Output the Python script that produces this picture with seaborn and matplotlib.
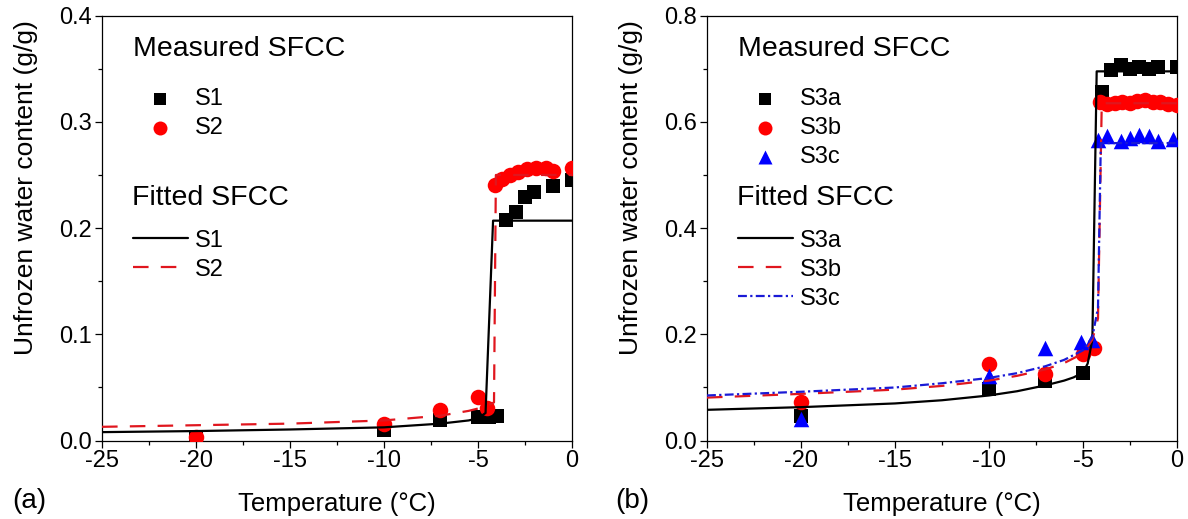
import numpy as np
import pandas as pd
import matplotlib
matplotlib.use('Agg')
import matplotlib.pyplot as plt
from matplotlib.ticker import MultipleLocator, FormatStrFormatter
import seaborn as sns

# Panel (a) measured SFCC
s1_t = [-20, -10, -7, -5.0, -4.4, -4.0, -3.5, -3.0, -2.5, -2.0, -1.0, 0.0]
s1_w = [0.002, 0.010, 0.019, 0.022, 0.022, 0.023, 0.208, 0.215, 0.229, 0.234, 0.240, 0.245]
s2_t = [-20, -10, -7, -5.0, -4.5, -4.1, -3.7, -3.3, -2.9, -2.4, -1.9, -1.4, -1.0, 0.0]
s2_w = [0.003, 0.016, 0.029, 0.041, 0.031, 0.241, 0.246, 0.250, 0.253, 0.256, 0.257, 0.257, 0.254, 0.257]

# Panel (a) fitted SFCC
fit_s1_t = [-25, -20, -15, -10, -7, -5.5, -5.0, -4.6, -4.2, 0]
fit_s1_w = [0.008, 0.009, 0.0105, 0.0125, 0.016, 0.019, 0.021, 0.026, 0.207, 0.207]
fit_s2_t = [-25, -20, -15, -10, -7, -5.5, -4.6, -4.15, -4.05, 0]
fit_s2_w = [0.013, 0.0145, 0.016, 0.019, 0.0235, 0.028, 0.032, 0.036, 0.25, 0.25]

# Panel (b) measured SFCC
s3a_t = [-20, -10, -7, -5, -4.0, -3.5, -3.0, -2.5, -2.0, -1.5, -1.0, 0.0]
s3a_w = [0.047, 0.097, 0.113, 0.128, 0.657, 0.698, 0.707, 0.700, 0.704, 0.700, 0.704, 0.704]
s3b_t = [-20, -10, -7, -5, -4.4, -4.1, -3.7, -3.3, -2.9, -2.5, -2.1, -1.7, -1.3, -0.9, -0.5, 0.0]
s3b_w = [0.073, 0.144, 0.125, 0.163, 0.175, 0.638, 0.633, 0.636, 0.638, 0.636, 0.640, 0.641, 0.638, 0.637, 0.634, 0.632]
s3c_t = [-20, -10, -7, -5.1, -4.5, -4.2, -3.7, -3.0, -2.5, -2.0, -1.5, -1.0, -0.2]
s3c_w = [0.040, 0.122, 0.175, 0.185, 0.190, 0.565, 0.573, 0.563, 0.570, 0.576, 0.573, 0.563, 0.567]

# Panel (b) fitted SFCC
fit_s3a_t = [-25, -20, -15, -12.5, -10, -8.5, -7, -6, -5.5, -5.0, -4.75, -4.5, -4.27, 0]
fit_s3a_w = [0.058, 0.063, 0.070, 0.076, 0.085, 0.093, 0.104, 0.113, 0.119, 0.128, 0.145, 0.19, 0.695, 0.695]
fit_s3b_t = [-25, -20, -15, -12.5, -10, -8.5, -7, -6, -5.0, -4.5, -4.2, -4.0, 0]
fit_s3b_w = [0.081, 0.088, 0.096, 0.103, 0.113, 0.122, 0.134, 0.146, 0.164, 0.19, 0.23, 0.635, 0.635]
fit_s3c_t = [-25, -20, -15, -12.5, -10, -8.5, -7, -6, -5.0, -4.5, -4.2, -4.05, 0]
fit_s3c_w = [0.085, 0.092, 0.100, 0.108, 0.118, 0.127, 0.140, 0.152, 0.170, 0.195, 0.25, 0.56, 0.56]

sns.set_theme(style='ticks')
plt.rcParams['font.family'] = ['Liberation Sans', 'DejaVu Sans']
plt.rcParams['axes.linewidth'] = 0.9
plt.rcParams['axes.unicode_minus'] = False
plt.rcParams['text.color'] = 'black'
plt.rcParams['axes.labelcolor'] = 'black'
plt.rcParams['axes.edgecolor'] = 'black'
plt.rcParams['xtick.color'] = 'black'
plt.rcParams['ytick.color'] = 'black'

RED = '#ff0000'
RED_LINE = '#e0161e'
BLUE = '#0000ff'
BLUE_LINE = '#1a1ad6'

fig = plt.figure(figsize=(11.88, 5.19), dpi=100)
ax1 = fig.add_axes([0.0859, 0.151, 0.3956, 0.819])
ax2 = fig.add_axes([0.5951, 0.151, 0.3956, 0.819])


def scatter(ax, t, w, color, marker, size, label):
    df = pd.DataFrame({'T': t, 'w': w})
    sns.scatterplot(data=df, x='T', y='w', ax=ax, color=color, marker=marker,
                    s=size, label=label, linewidth=0, zorder=3)


def fitline(ax, t, w, color, ls, label):
    df = pd.DataFrame({'T': t, 'w': w})
    sns.lineplot(data=df, x='T', y='w', ax=ax, color=color, linestyle=ls,
                 linewidth=1.6, sort=False, estimator=None, label=label, zorder=4)


# panel (a)
scatter(ax1, s1_t, s1_w, 'black', 's', 95, 'S1')
scatter(ax1, s2_t, s2_w, RED, 'o', 125, 'S2')
fitline(ax1, fit_s1_t, fit_s1_w, 'black', '-', 'S1')
fitline(ax1, fit_s2_t, fit_s2_w, RED_LINE, (0, (7, 5.5)), 'S2')

# panel (b)
scatter(ax2, s3a_t, s3a_w, 'black', 's', 95, 'S3a')
scatter(ax2, s3b_t, s3b_w, RED, 'o', 125, 'S3b')
scatter(ax2, s3c_t, s3c_w, BLUE, '^', 125, 'S3c')
fitline(ax2, fit_s3a_t, fit_s3a_w, 'black', '-', 'S3a')
fitline(ax2, fit_s3b_t, fit_s3b_w, RED_LINE, (0, (7, 5.5)), 'S3b')
fitline(ax2, fit_s3c_t, fit_s3c_w, BLUE_LINE, (0, (4, 1.5, 1, 1.5)), 'S3c')

for ax, ymax, ymaj in [(ax1, 0.4, 0.1), (ax2, 0.8, 0.2)]:
    ax.set_xlim(-25, 0)
    ax.set_ylim(0, ymax)
    ax.xaxis.set_major_locator(MultipleLocator(5))
    ax.xaxis.set_minor_locator(MultipleLocator(2.5))
    ax.yaxis.set_major_locator(MultipleLocator(ymaj))
    ax.yaxis.set_minor_locator(MultipleLocator(ymaj / 2))
    ax.yaxis.set_major_formatter(FormatStrFormatter('%.1f'))
    ax.tick_params(which='major', direction='out', length=5, width=0.9,
                   labelsize=17, pad=2)
    ax.tick_params(which='minor', direction='out', length=3, width=0.9)
    ax.set_xlabel('Temperature (°C)', fontsize=18.5, labelpad=14)
    ax.set_ylabel('Unfrozen water content (g/g)', fontsize=19)
    ax.yaxis.set_label_coords(-0.136, 0.595)

    # split handles into measured / fitted legends
    handles, labels = ax.get_legend_handles_labels()
    n = len(handles) // 2
    ax.text(0.065, 0.906, 'Measured SFCC', transform=ax.transAxes,
            fontsize=20.5, va='baseline', ha='left')
    leg1 = ax.legend(handles[:n], labels[:n], loc='upper left',
                     bbox_to_anchor=(0.065, 0.829), frameon=False, fontsize=17,
                     borderpad=0, borderaxespad=0, handlelength=2.33,
                     handletextpad=0.3, labelspacing=0.3, markerscale=0.9)
    ax.add_artist(leg1)
    ax.text(0.064, 0.554, 'Fitted SFCC', transform=ax.transAxes,
            fontsize=20.5, va='baseline', ha='left')
    ax.legend(handles[n:], labels[n:], loc='upper left',
              bbox_to_anchor=(0.065, 0.4965), frameon=False, fontsize=17,
              borderpad=0, borderaxespad=0, handlelength=2.33,
              handletextpad=0.3, labelspacing=0.3)

fig.text(12 / 1188, 1 - 508 / 519, '(a)', fontsize=20, va='baseline', ha='left')
fig.text(615 / 1188, 1 - 508 / 519, '(b)', fontsize=20, va='baseline', ha='left')

fig.savefig('out.png', dpi=100)
